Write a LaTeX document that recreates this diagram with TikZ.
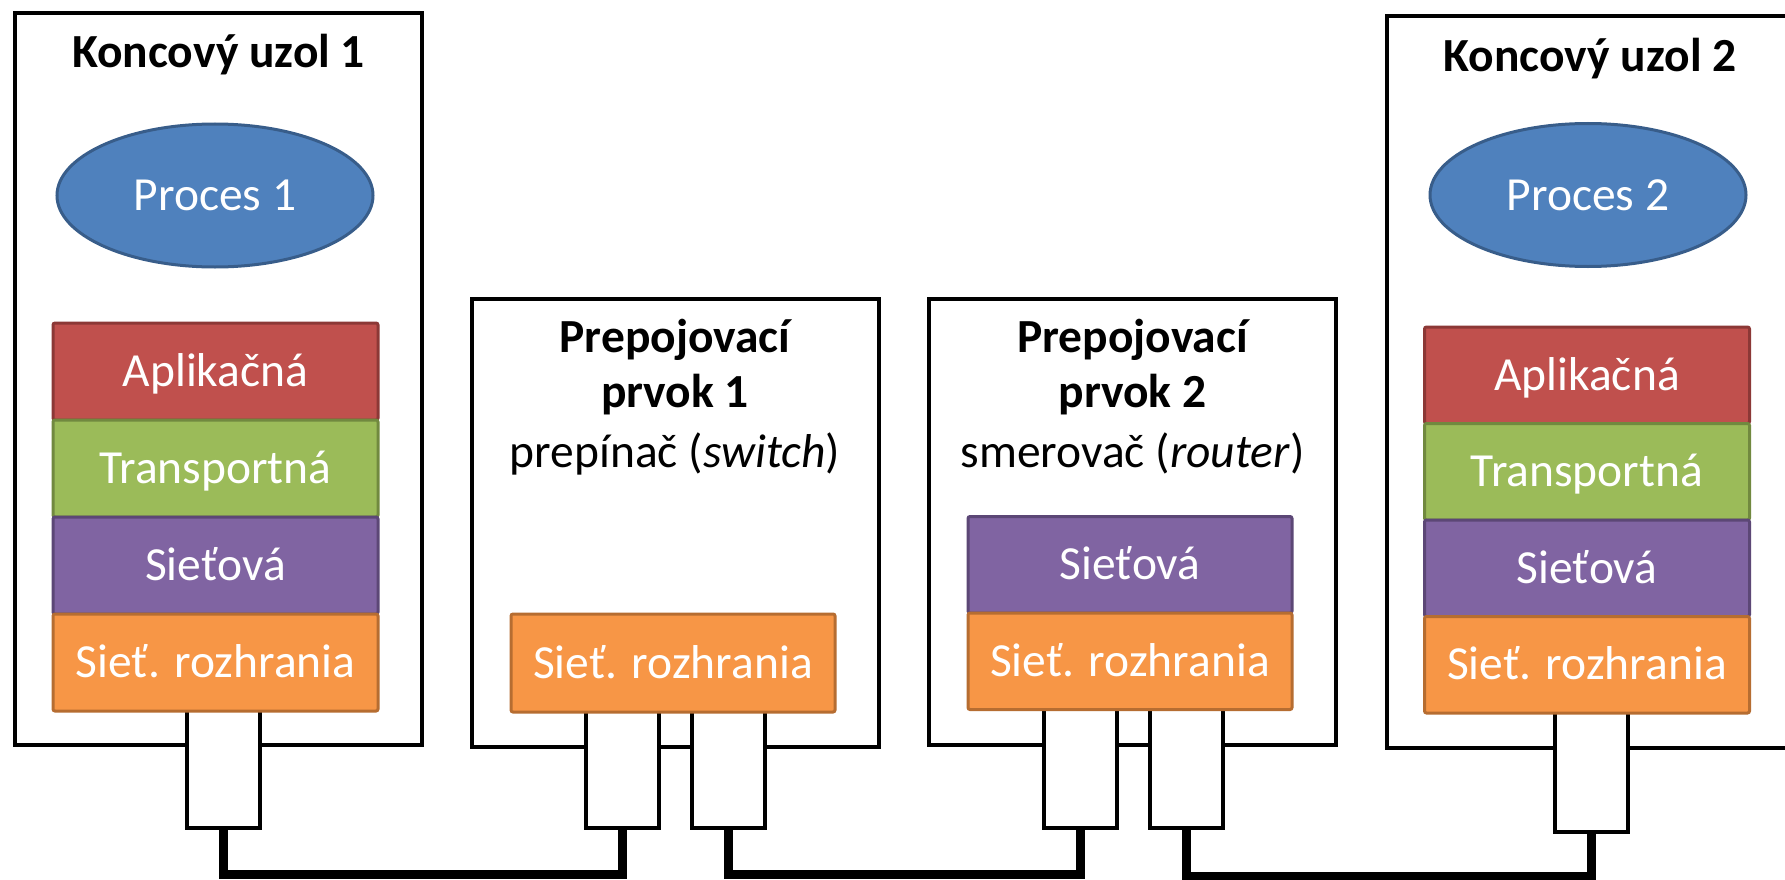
\documentclass[tikz,border=0pt]{standalone}
\usepackage{fontspec}
\setmainfont{Carlito}
\usetikzlibrary{shapes.geometric}

\definecolor{appfill}{HTML}{C0504D}\definecolor{appline}{HTML}{8C3836}
\definecolor{trnfill}{HTML}{9BBB59}\definecolor{trnline}{HTML}{71893F}
\definecolor{netfill}{HTML}{8064A2}\definecolor{netline}{HTML}{5C4776}
\definecolor{iffill}{HTML}{F79646}\definecolor{ifline}{HTML}{B66D31}
\definecolor{procfill}{HTML}{4F81BD}\definecolor{procline}{HTML}{385D8A}

\newcommand{\bodyfont}{\fontsize{47.5}{57}\selectfont}

\tikzset{
  device/.style={draw=black, line width=4pt, minimum width=407pt, inner sep=0pt},
  layer/.style={line width=3pt, minimum width=325pt, minimum height=97pt, inner sep=0pt,
    text=white, text height=30pt, text depth=0pt, rounded corners=2pt},
  app/.style={layer, fill=appfill, draw=appline},
  trn/.style={layer, fill=trnfill, draw=trnline},
  net/.style={layer, fill=netfill, draw=netline},
  nif/.style={layer, fill=iffill, draw=ifline},
  port/.style={draw=black, fill=white, line width=4pt, minimum width=73pt, inner sep=0pt},
  cable/.style={line width=9pt, line join=miter},
  proc/.style={ellipse, draw=procline, fill=procfill, line width=3pt,
    minimum width=316pt, minimum height=143pt, inner sep=0pt,
    text=white, text height=30pt, text depth=0pt},
  heading/.style={anchor=base, font=\bodyfont\bfseries},
  caption/.style={anchor=base},
}

\begin{document}
\begin{tikzpicture}[x=1pt, y=-1pt, font=\bodyfont]
  \clip (0,0) rectangle (1785,880);
  \fill[white] (0,0) rectangle (1785,880);

  % devices
  \node[device, minimum height=732pt] (host1) at (218.5,379) {};
  \node[device, minimum height=448pt] (sw) at (675,523) {};
  \node[device, minimum height=446pt] (rt) at (1132.5,522) {};
  \node[device, minimum height=732pt] (host2) at (1590,382) {};

  % network ports
  \node[port, minimum height=128pt] (p1) at (223.5,764) {};
  \node[port, minimum height=126pt] (swa) at (622.5,765) {};
  \node[port, minimum height=126pt] (swb) at (728.5,765) {};
  \node[port, minimum height=126pt] (rta) at (1080,765) {};
  \node[port, minimum height=126pt] (rtb) at (1186,765) {};
  \node[port, minimum height=129pt] (p2) at (1591.5,767.5) {};

  % end node 1
  \node[heading] (h1title) at (218.5,68) {Koncový uzol 1};
  \node[proc] (proc1) at (215,195.5) {Proces 1};
  \node[app] (h1app) at (215.5,371.5) {Aplikačná};
  \node[trn] (h1trn) at (215.5,468.5) {Transportná};
  \node[net] (h1net) at (215.5,565.5) {Sieťová};
  \node[nif] (h1if)  at (215.5,662.5) {Sieť. rozhrania};

  % switching element 1
  \node[heading] (swt1) at (675,352) {Prepojovací};
  \node[heading] (swt2) at (675,407) {prvok 1};
  \node[caption] (swt3) at (675,467) {prepínač (\textit{switch})};
  \node[nif, minimum height=98pt, minimum width=324pt] (swif) at (673,663) {Sieť. rozhrania};

  % switching element 2
  \node[heading] (rtt1) at (1132.5,352) {Prepojovací};
  \node[heading] (rtt2) at (1132.5,407) {prvok 2};
  \node[caption] (rtt3) at (1132.5,467) {smerovač (\textit{router})};
  \node[net, minimum height=96.5pt, minimum width=324pt] (rtnet) at (1130,564.75) {Sieťová};
  \node[nif, minimum height=96.5pt, minimum width=324pt] (rtif) at (1130,661.25) {Sieť. rozhrania};

  % end node 2
  \node[heading] (h2title) at (1590,72) {Koncový uzol 2};
  \node[proc] (proc2) at (1588,195) {Proces 2};
  \node[app, minimum height=96.5pt] (h2app) at (1587,375.25) {Aplikačná};
  \node[trn, minimum height=96.5pt] (h2trn) at (1587,471.75) {Transportná};
  \node[net, minimum height=96.5pt] (h2net) at (1587,568.25) {Sieťová};
  \node[nif, minimum height=96.5pt] (h2if)  at (1587,664.75) {Sieť. rozhrania};

  % cabling
  \coordinate (busA) at (0,874);
  \coordinate (busB) at (0,876);
  \draw[cable] (p1.south) -- (p1.south |- busA) -| (swa.south);
  \draw[cable] (swb.south) -- (swb.south |- busA) -| (rta.south);
  \draw[cable] (rtb.south) -- (rtb.south |- busB) -| (p2.south);
\end{tikzpicture}
\end{document}
